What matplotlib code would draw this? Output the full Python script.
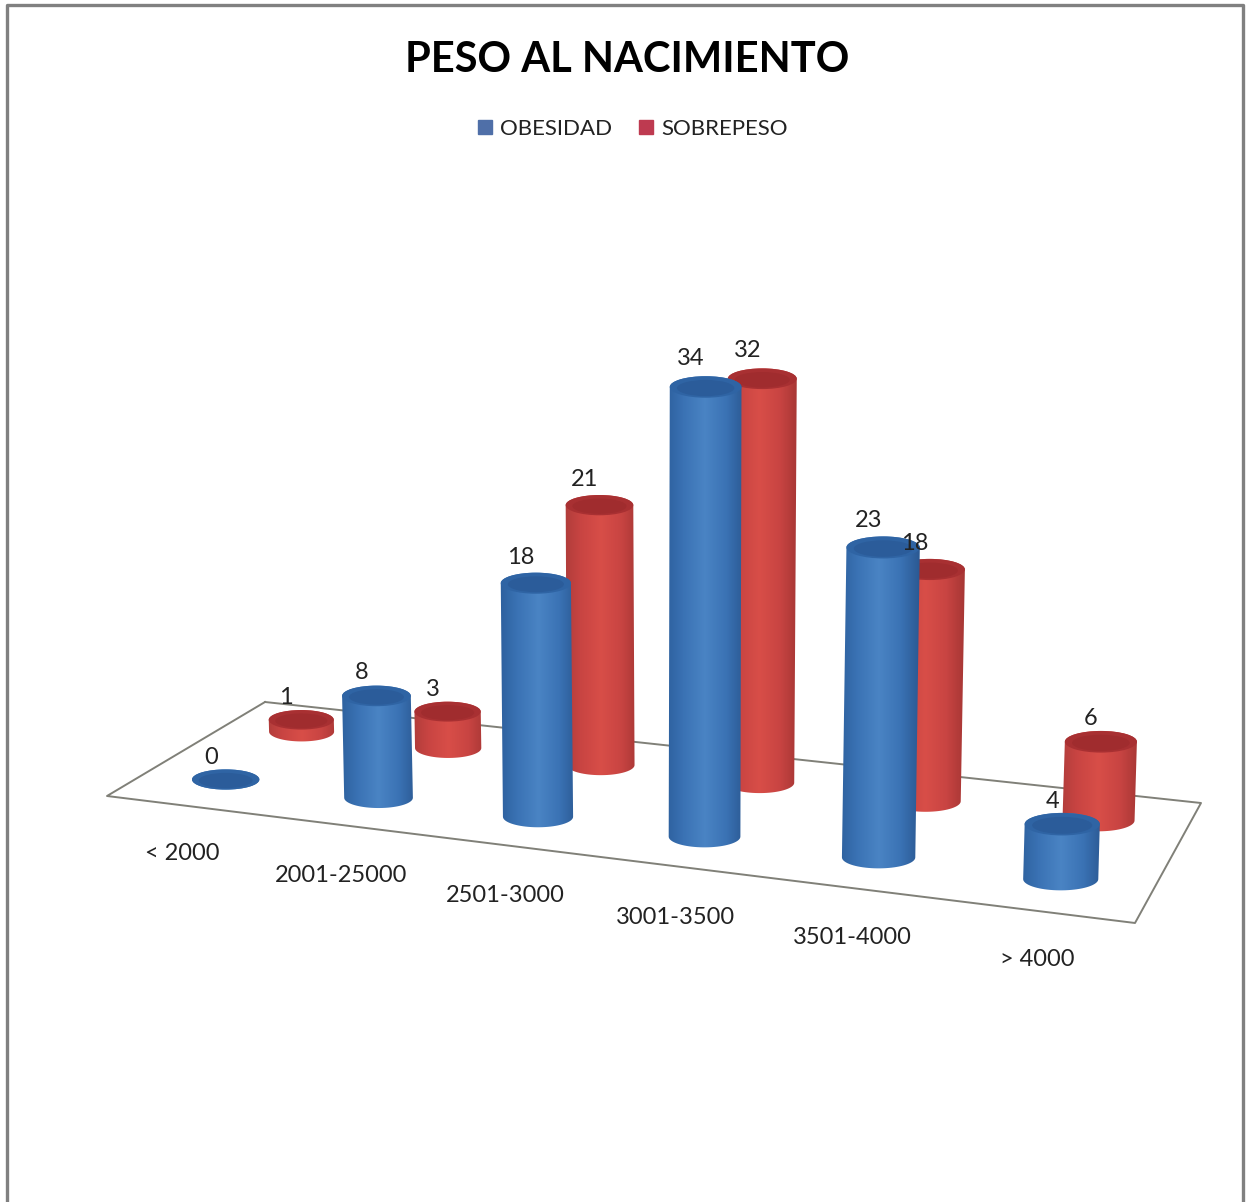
#!/usr/bin/env python3
"""PESO AL NACIMIENTO: fake 3D cylinder columns, drawn in pixel-like axes."""
import numpy as np
import matplotlib
matplotlib.use("Agg")
import matplotlib.pyplot as plt
from matplotlib.colors import LinearSegmentedColormap
from matplotlib.lines import Line2D
from matplotlib.patches import Ellipse, PathPatch
from matplotlib.path import Path

categories = ["< 2000", "2001-25000", "2501-3000", "3001-3500", "3501-4000", "> 4000"]
obesidad = [0, 8, 18, 34, 23, 4]
sobrepeso = [1, 3, 21, 32, 18, 6]

plt.rcParams["font.family"] = ["Lato", "DejaVu Sans"]
W, H = 1246, 1202
fig = plt.figure(figsize=(W / 100, H / 100), dpi=100)
ax = fig.add_axes([0, 0, 1, 1])
ax.axis("off")

# floor quad corners: back-left, back-right, front-right, front-left
floor = np.array([[265, 702], [1201, 803], [1135, 923], [107, 796]], float)

def homography(quad):
    src = [(0, 0), (1, 0), (1, 1), (0, 1)]
    A, b = [], []
    for (u, v), (x, y) in zip(src, quad):
        A.append([u, v, 1, 0, 0, 0, -u * x, -v * x]); b.append(x)
        A.append([0, 0, 0, u, v, 1, -u * y, -v * y]); b.append(y)
    return np.append(np.linalg.solve(np.array(A), np.array(b)), 1).reshape(3, 3)

M = homography(floor)

def proj(u, v):
    p = M @ np.array([u, v, 1.0])
    return p[:2] / p[2]

def cylinder(i, val, depth, cmap, top_edge, top_mid):
    u = (i + 0.5) / len(categories)
    cx, cy = proj(u, depth)
    cx += 2
    dia = np.linalg.norm(proj(u + 0.04, depth) - proj(u - 0.04, depth)) * 0.44 + 34 + 2 * depth
    h = val * (11.45 + 1.5 * u + 1.2 * depth)   # px per unit grows toward the viewer
    tx = cx + (cx - 670) * 7e-5 * h   # verticals lean out a little
    ty = cy - h
    rx, ry = dia / 2, dia * 0.15
    t = np.linspace(0, np.pi, 40)
    bottom = np.c_[cx - rx * np.cos(t), cy + ry * np.sin(t)]
    top = np.c_[tx + rx * np.cos(t), ty - ry * np.sin(t)]
    verts = np.r_[bottom, top, bottom[:1]]
    clip = PathPatch(Path(verts), fc="none", ec="none", transform=ax.transData)
    ax.add_patch(clip)
    im = ax.imshow(np.linspace(0, 1, 64)[None, :], cmap=cmap, aspect="auto",
                   extent=(cx - rx - 8, cx + rx + 8, cy + ry + 2, ty - ry - 2),
                   zorder=3 + depth * 2, interpolation="bilinear")
    im.set_clip_path(clip)
    ax.add_patch(Ellipse((tx, ty), 2 * rx, 2 * ry, fc=top_edge, ec="none", zorder=3.1 + depth * 2))
    ax.add_patch(Ellipse((tx, ty + ry * 0.1), 1.6 * rx, 1.5 * ry, fc=top_mid, ec="none",
                         zorder=3.2 + depth * 2))
    off = 10 if i == 5 else 15
    ax.text(tx - off, ty - 22 - h * 0.015, str(val), ha="center", va="center", fontsize=17,
            color="#222222", zorder=8)

blue = LinearSegmentedColormap.from_list("b", ["#2a5c98", "#3a72b4", "#4a84c4", "#3a72b4", "#28548c"])
red = LinearSegmentedColormap.from_list("r", ["#a83a38", "#c84442", "#d84e48", "#c84442", "#a03432"])

# floor outline sits behind the columns
ax.plot(*np.r_[floor, floor[:1]].T, color="#808078", lw=1.4, zorder=2)

for i, v in enumerate(sobrepeso):
    cylinder(i, v, 0.25, red, "#a83032", "#a02c2e")
for i, v in enumerate(obesidad):
    cylinder(i, v, 0.75, blue, "#2f64a4", "#2b5c9a")

# category labels under the front edge
label_x = [182, 341, 505, 675, 852, 1037]
label_y = [853, 876, 895, 917, 938, 959]
for x, y, c in zip(label_x, label_y, categories):
    ax.text(x, y, c, ha="center", va="center", fontsize=17, color="#222222")

ax.text(627, 60, "PESO AL NACIMIENTO", ha="center", va="center", fontsize=30,
        fontweight="bold", color="black")

handles = [Line2D([], [], ls="none", marker="s", ms=9.5, color="#4f6fa8"),
           Line2D([], [], ls="none", marker="s", ms=9.5, color="#be3a50")]
ax.legend(handles, ["OBESIDAD", "SOBREPESO"], ncol=2, loc="center", frameon=False,
          bbox_to_anchor=(632, 129), bbox_transform=ax.transData, fontsize=16,
          labelcolor="#222222", handlelength=0.8, handletextpad=0.3, columnspacing=1.1)

# picture frame: no bottom edge in the reference
ax.plot([7, 7, 1243, 1243], [H, 5, 5, H], color="#808080", lw=2.4, zorder=9)

ax.set_xlim(0, W)
ax.set_ylim(H, 0)
fig.savefig("out.png", dpi=100)
